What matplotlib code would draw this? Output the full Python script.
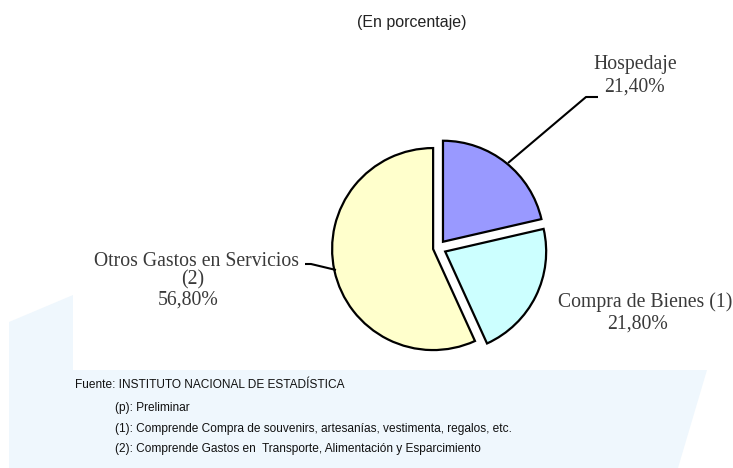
import matplotlib
matplotlib.use("Agg")
import matplotlib.pyplot as plt
from matplotlib.patches import Polygon

# ---- data ----
categories = ["Hospedaje", "Compra de Bienes (1)", "Otros Gastos en Servicios\n(2)"]
values = [21.40, 21.80, 56.80]
value_labels = ["21,40%", "21,80%", "56,80%"]
colors = ["#9999FF", "#CCFFFF", "#FFFFCC"]
title = "(En porcentaje)"
notes_source = "Fuente: INSTITUTO NACIONAL DE ESTADÍSTICA"
notes = ["(p): Preliminar",
         "(1): Comprende Compra de souvenirs, artesanías, vestimenta, regalos, etc.",
         "(2): Comprende Gastos en  Transporte, Alimentación y Esparcimiento"]

W, H = 733, 468
fig = plt.figure(figsize=(W / 100, H / 100), dpi=100)
ax = fig.add_axes([0, 0, 1, 1])

def Y(y):  # convert pixel-from-top to data y
    return H - y

# background light-blue shape
bg = Polygon([(9, Y(322)), (73, Y(295)), (73, Y(370)), (707, Y(370)),
              (678, Y(468)), (9, Y(468))], closed=True,
             facecolor="#EFF7FD", edgecolor="none", zorder=0)
ax.add_patch(bg)

R = 101
cx, cy = 438, Y(248)
explode = [8, 8, 5]
ax.pie(values, colors=colors, startangle=90, counterclock=False,
       explode=explode, radius=R, center=(cx, cy),
       wedgeprops=dict(edgecolor="black", linewidth=1.6), frame=False)

ax.set_xlim(0, W)
ax.set_ylim(0, H)
ax.set_aspect("equal")
ax.axis("off")

serif = ["Liberation Serif", "DejaVu Serif"]
sans = ["Liberation Sans", "DejaVu Sans"]
tcol = "#3a3a3a"
fs = 14.2

# title
ax.text(412, Y(22), title, ha="center", va="center", fontsize=11.5,
        family=sans, color="#222222")

# labels
ax.text(635, Y(65), categories[0], ha="center", va="center", fontsize=fs,
        family=serif, color=tcol)
ax.text(634, Y(87), value_labels[0], ha="center", va="center", fontsize=fs,
        family=serif, color=tcol)

ax.text(645, Y(302), categories[1], ha="center", va="center", fontsize=fs,
        family=serif, color=tcol)
ax.text(637, Y(324), value_labels[1], ha="center", va="center", fontsize=fs,
        family=serif, color=tcol)

l1, l2 = categories[2].split("\n")
ax.text(196, Y(262), l1, ha="center", va="center", fontsize=fs,
        family=serif, color=tcol)
ax.text(193, Y(280), l2, ha="center", va="center", fontsize=fs,
        family=serif, color=tcol)
ax.text(188, Y(300), value_labels[2], ha="center", va="center", fontsize=fs,
        family=serif, color=tcol)

# leader lines
ax.plot([598, 586, 508], [Y(97), Y(97), Y(163)], color="black", lw=1.5,
        solid_capstyle="butt")
ax.plot([305, 311, 336], [Y(264), Y(264), Y(270)], color="black", lw=1.5,
        solid_capstyle="butt")

# notes
ax.text(75, Y(385), notes_source, ha="left", va="center", fontsize=8.6,
        family=sans, color="#111111")
for yy, t in zip([408, 429, 449], notes):
    ax.text(115, Y(yy), t, ha="left", va="center", fontsize=8.6,
            family=sans, color="#111111")

fig.savefig("out.png", dpi=100)
